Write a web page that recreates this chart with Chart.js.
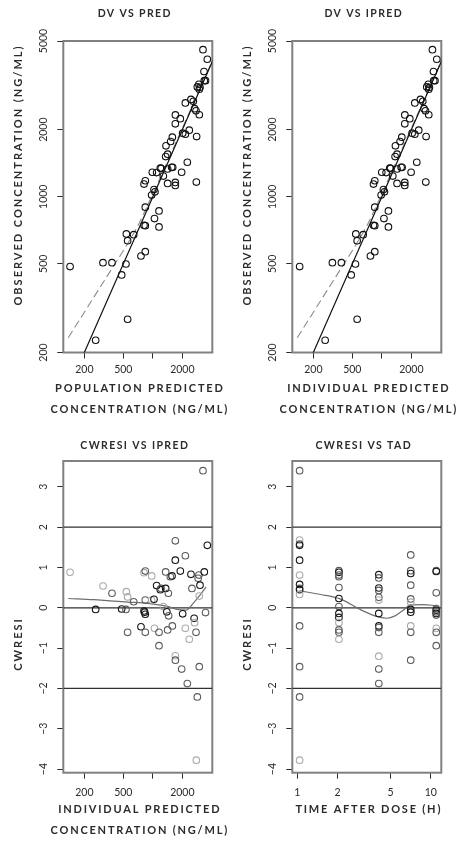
<!DOCTYPE html>
<html>
<head>
<meta charset="utf-8">
<title>Goodness of fit</title>
<script src="https://cdn.jsdelivr.net/npm/chart.js@4.4.1/dist/chart.umd.min.js"></script>
<style>
    body { margin: 0; background: #fff; }
    #panels { position: relative; width: 458px; height: 845px; }
    #panels canvas { position: absolute; }
</style>
</head>
<body>
<div id="panels">
    <canvas id="dvPred" width="229" height="420" style="left:0;top:0"></canvas>
    <canvas id="dvIpred" width="229" height="420" style="left:229px;top:0"></canvas>
    <canvas id="resIpred" width="229" height="425" style="left:0;top:420px"></canvas>
    <canvas id="resTad" width="229" height="425" style="left:229px;top:420px"></canvas>
</div>
<script>
// observed vs predicted (ng/mL)
const pred = [143, 261, 310, 383, 481, 532, 553, 537, 553, 638, 757, 838, 813, 838, 838, 813, 838, 973, 1028, 1052,
    988, 1094, 1040, 1156, 1156, 1193, 1215, 1280, 1352, 1416, 1362, 1520, 1582, 1416, 1556, 1595, 1416, 1697, 1697, 1697,
    1700, 1908, 1969, 2016, 2148, 2355, 2250, 2148, 2450, 2590, 2670, 2760, 2980, 2800, 2780, 2845, 2950, 3030, 2980, 3351,
    3330, 3250, 3600, 3450]
const ipred = [145, 264, 313, 387, 487, 538, 560, 543, 560, 645, 765, 847, 822, 847, 847, 822, 847, 984, 1039, 1063,
    999, 1106, 1051, 1168, 1168, 1206, 1228, 1294, 1366, 1431, 1377, 1536, 1599, 1431, 1573, 1612, 1431, 1715, 1715, 1715,
    1718, 1928, 1990, 2037, 2171, 2380, 2274, 2171, 2476, 2618, 2698, 2789, 3012, 2830, 2810, 2875, 2981, 3062, 3012, 3387,
    3365, 3285, 3638, 3487]
const dv = [486, 227, 506, 506, 446, 499, 282, 681, 635, 676, 542, 567, 745, 742, 898, 1140, 1180, 1017, 1078, 1052,
    1288, 1284, 798, 864, 732, 1346, 1340, 1238, 1514, 1552, 1692, 1770, 1850, 1332, 1356, 1356, 1148, 1160, 1124, 2125,
    2329, 2240, 1288, 1928, 1910, 1990, 1428, 2636, 2735, 2680, 2485, 2430, 2334, 1862, 1164, 3112, 3198, 3100, 3040, 3320,
    3648, 4570, 4140, 3320]
const dvSmoothX = [137, 250, 400, 558, 700, 1000, 1500, 2500, 4100]
const dvSmoothY = [233, 354, 491, 620, 738, 1030, 1530, 2530, 4120]
const unity = [100, 10000]

// CWRESI vs IPRED, group 0 = dark, 1 = mid, 2 = light
const resX = [143, 261, 310, 383, 481, 532, 537, 553, 553, 638, 757, 813, 838, 825, 838, 813, 838, 838, 973, 973,
    1028, 1040, 1094, 1156, 1156, 1193, 1215, 1280, 1352, 1352, 1390, 1416, 1440, 1450, 1510, 1570, 1582, 1697, 1697, 1697,
    1700, 1908, 1969, 2016, 2148, 2148, 2250, 2355, 2450, 2510, 2640, 2670, 2760, 2845, 2780, 2900, 2950, 3030, 2980, 2980,
    3250, 3351, 3450, 3600]
const resY = [0.88, -0.04, 0.54, 0.36, -0.03, -0.04, 0.4, 0.27, -0.61, 0.15, -0.47, -0.08, -0.16, -0.11, -0.61, 0.87, 0.91, 0.19, 0.79, 0.19,
    0.21, -0.51, 0.55, -0.61, -0.94, 0.45, 0.48, 0.03, 0.89, 0.48, -0.1, -0.55, 0.36, -0.2, 0.77, 0.79, -0.45, 1.66, 1.18, -1.19,
    -1.3, 0.91, -1.52, -0.15, 1.29, -0.51, -1.88, -0.78, 0.83, 0.48, -0.26, -0.37, -0.61, -2.21, -3.78, 0.73, 0.81, 0.56, 0.29, -1.46,
    3.4, 0.89, -0.12, 1.55]
const resGrp = [2, 0, 2, 1, 0, 1, 2, 2, 1, 1, 0, 0, 0, 0, 1, 2, 1, 1, 2, 2,
    0, 2, 0, 1, 1, 0, 1, 2, 1, 0, 0, 1, 1, 1, 1, 0, 1, 1, 0, 2,
    1, 0, 1, 0, 1, 2, 1, 2, 0, 1, 0, 2, 1, 1, 2, 1, 1, 0, 2, 1,
    1, 0, 1, 0]
const resSmoothX = [137, 250, 366, 550, 800, 1100, 1387, 1756, 2180, 2580, 3000, 3500]
const resSmoothY = [0.23, 0.2, 0.17, 0.14, 0.12, 0.08, 0.04, -0.04, -0.06, 0.11, 0.3, 0.52]

// CWRESI vs time after dose (h)
const tad = [1.04, 1.04, 1.04, 1.04, 1.04, 1.04, 1.04, 1.04, 1.04, 1.04, 1.04, 1.04, 1.04, 1.04,
    2.05, 2.05, 2.05, 2.05, 2.05, 2.05, 2.05, 2.05, 2.05, 2.05, 2.05, 2.05, 2.05,
    4.08, 4.08, 4.08, 4.08, 4.08, 4.08, 4.08, 4.08, 4.08, 4.08, 4.08, 4.08, 4.08,
    7.08, 7.08, 7.08, 7.08, 7.08, 7.08, 7.08, 7.08, 7.08, 7.08, 7.08,
    11.0, 11.0, 11.0, 11.0, 11.0, 11.0, 11.0, 11.0, 11.0, 11.0, 11.0]
const tadRes = [3.4, 1.68, 1.58, 1.55, 1.18, 0.81, 0.58, 0.48, 0.45, 0.33, -0.45, -1.46, -2.21, -3.78,
    0.92, 0.88, 0.81, 0.77, 0.5, 0.23, 0.03, -0.14, -0.24, -0.37, -0.55, -0.61, -0.78,
    0.82, 0.74, 0.49, 0.43, 0.26, 0.19, -0.14, -0.45, -0.49, -0.61, -1.2, -1.52, -1.88,
    1.31, 0.92, 0.85, 0.56, 0.22, 0.14, -0.04, -0.11, -0.45, -0.61, -1.3,
    0.92, 0.9, 0.37, -0.02, -0.06, -0.1, -0.14, -0.18, -0.51, -0.61, -0.94]
const tadGrp = [1, 2, 1, 0, 0, 2, 0, 1, 0, 2, 1, 1, 1, 2,
    1, 0, 1, 1, 1, 0, 1, 0, 0, 2, 1, 1, 2,
    0, 1, 0, 1, 1, 2, 0, 0, 1, 1, 2, 1, 1,
    1, 1, 0, 1, 1, 2, 0, 0, 2, 1, 1,
    1, 0, 1, 1, 0, 1, 0, 1, 2, 1, 1]
const tadSmoothX = [1.04, 1.5, 2.09, 2.95, 3.6, 4.17, 4.68, 5.4, 6.23, 7.0, 8.8, 11.0]
const tadSmoothY = [0.42, 0.33, 0.22, -0.04, -0.17, -0.24, -0.26, -0.2, -0.06, 0.07, 0.08, 0.05]

// axes
const concRange = [122, 4046]
const concTicks = [200, 500, 1000, 2000]
const dvRange = [200, 5000]
const dvTicks = [200, 500, 1000, 2000, 5000]
const resRange = [-4.09, 3.64]
const resTicks = [-4, -3, -2, -1, 0, 1, 2, 3]
const resLines = [-2, 0, 2]
const tadRange = [0.917, 12.0]
const tadTicks = [1, 2, 5, 10]

const INK = "#2b2b2b"
const SHADES = ["#161616", "#5c5c5c", "#aaaaaa"]
const TICK_FONT = { family: "Lato", size: 10.5 }

const fmt = (v) => (v < 0 ? "\u2212" + -v : String(v))
const pts = (xs, ys) => xs.map((x, i) => ({ x, y: ys[i] }))

function scatter(xs, ys, colors) {
    return {
        data: pts(xs, ys),
        pointRadius: 3.3,
        pointBorderWidth: 1.1,
        pointBackgroundColor: "rgba(0,0,0,0)",
        pointBorderColor: colors,
    }
}

function curve(xs, ys, color, width, dash) {
    return {
        type: "line",
        data: pts(xs, ys),
        borderColor: color,
        borderWidth: width,
        borderDash: dash || [],
        pointRadius: 0,
        fill: false,
        cubicInterpolationMode: "monotone",
    }
}

// centre rotated y labels about 20px left of the box
function yLabelPad(labels) {
    const ctx = document.createElement("canvas").getContext("2d")
    ctx.font = `${TICK_FONT.size}px ${TICK_FONT.family}`
    const widest = Math.max(...labels.map((t) => ctx.measureText(t).width))
    return 14 - widest / 2
}

const panelText = {
    id: "panelText",
    beforeDatasetsDraw(chart) {
        const { ctx, chartArea: a } = chart
        ctx.save()
        ctx.strokeStyle = "#808080"
        ctx.lineWidth = 2
        ctx.strokeRect(a.left, a.top, a.right - a.left, a.bottom - a.top)
        ctx.restore()
    },
    afterDraw(chart, args, opts) {
        const { ctx, chartArea: a } = chart
        const mid = (a.left + a.right) / 2
        ctx.save()
        ctx.fillStyle = INK
        ctx.textAlign = "center"
        ctx.textBaseline = "middle"
        ctx.font = "bold 10.5px Lato"
        ctx.letterSpacing = "1.4px"
        ctx.fillText(opts.title, mid - 3, opts.titleY)
        ctx.font = "bold 11px Lato"
        ctx.letterSpacing = "1.8px"
        opts.xTitle.forEach((line, i) => {
            ctx.fillText(line, mid + 2, opts.xTitleY + i * 21.5)
        })
        ctx.letterSpacing = "2px"
        ctx.translate(18.3, opts.yTitleY)
        ctx.rotate(-Math.PI / 2)
        ctx.fillText(opts.yTitle, 0, 0)
        ctx.restore()
    },
}

function axis(type, range, ticks, hide) {
    return {
        type: type,
        min: range[0],
        max: range[1],
        bounds: "data",
        afterBuildTicks: (s) => {
            s.ticks = ticks.map((value) => ({ value }))
        },
        border: { display: false },
        grid: { drawOnChartArea: false, tickLength: 6, color: INK, tickColor: INK, lineWidth: 1 },
        ticks: {
            autoSkip: false,
            color: INK,
            font: TICK_FONT,
            callback: (v) => (hide.includes(v) ? "" : fmt(v)),
        },
    }
}

function makePanel(id, p) {
    const x = axis(p.xType, p.xRange, p.xTicks, p.xHide || [])
    x.afterFit = (s) => {
        s.height = s.chart.height - p.boxBottom
    }
    Object.assign(x.ticks, { maxRotation: 0, minRotation: 0, padding: p.xPad })

    const y = axis(p.yType, p.yRange, p.yTicks, [])
    y.afterFit = (s) => {
        s.width = 63.3
    }
    Object.assign(y.ticks, {
        minRotation: 90,
        maxRotation: 90,
        crossAlign: "center",
        padding: yLabelPad(p.yTicks.map(fmt)),
    })

    return new Chart(document.getElementById(id), {
        type: "scatter",
        data: { datasets: p.datasets },
        options: {
            responsive: false,
            animation: false,
            events: [],
            layout: { padding: { left: 0, right: 16.7, top: 41, bottom: 0 } },
            plugins: {
                legend: { display: false },
                tooltip: { enabled: false },
                panelText: p.text,
            },
            scales: { x, y },
        },
        plugins: [panelText],
    })
}

function refLine(level, range) {
    return curve(range, [level, level], "#303030", 1.3)
}

makePanel("dvPred", {
    xType: "logarithmic", xRange: concRange, xTicks: concTicks, xHide: [1000], xPad: 5.2,
    yType: "logarithmic", yRange: dvRange, yTicks: dvTicks, boxBottom: 352.5,
    datasets: [
        scatter(pred, dv, "#111"),
        curve(unity, unity, "#111", 1.2),
        curve(dvSmoothX, dvSmoothY, "#8a8a8a", 1.1, [8, 4]),
    ],
    text: {
        title: "DV VS PRED", titleY: 14,
        xTitle: ["POPULATION PREDICTED", "CONCENTRATION (NG/ML)"], xTitleY: 388,
        yTitle: "OBSERVED CONCENTRATION (NG/ML)", yTitleY: 175,
    },
})

makePanel("dvIpred", {
    xType: "logarithmic", xRange: concRange, xTicks: concTicks, xHide: [1000], xPad: 5.2,
    yType: "logarithmic", yRange: dvRange, yTicks: dvTicks, boxBottom: 352.5,
    datasets: [
        scatter(ipred, dv, "#111"),
        curve(unity, unity, "#111", 1.2),
        curve(dvSmoothX, dvSmoothY, "#8a8a8a", 1.1, [8, 4]),
    ],
    text: {
        title: "DV VS IPRED", titleY: 14,
        xTitle: ["INDIVIDUAL PREDICTED", "CONCENTRATION (NG/ML)"], xTitleY: 388,
        yTitle: "OBSERVED CONCENTRATION (NG/ML)", yTitleY: 175,
    },
})

makePanel("resIpred", {
    xType: "logarithmic", xRange: concRange, xTicks: concTicks, xHide: [1000], xPad: 7.7,
    yType: "linear", yRange: resRange, yTicks: resTicks, boxBottom: 352.7,
    datasets: [
        scatter(resX, resY, resGrp.map((g) => SHADES[g])),
        curve(resSmoothX, resSmoothY, "#6e6e6e", 1.2),
        ...resLines.map((l) => refLine(l, concRange)),
    ],
    text: {
        title: "CWRESI VS IPRED", titleY: 26,
        xTitle: ["INDIVIDUAL PREDICTED", "CONCENTRATION (NG/ML)"], xTitleY: 389.3,
        yTitle: "CWRESI", yTitleY: 224,
    },
})

makePanel("resTad", {
    xType: "logarithmic", xRange: tadRange, xTicks: tadTicks, xPad: 7.7,
    yType: "linear", yRange: resRange, yTicks: resTicks, boxBottom: 352.7,
    datasets: [
        scatter(tad, tadRes, tadGrp.map((g) => SHADES[g])),
        curve(tadSmoothX, tadSmoothY, "#6e6e6e", 1.2),
        ...resLines.map((l) => refLine(l, tadRange)),
    ],
    text: {
        title: "CWRESI VS TAD", titleY: 26,
        xTitle: ["TIME AFTER DOSE (H)"], xTitleY: 389.3,
        yTitle: "CWRESI", yTitleY: 224,
    },
})
</script>
</body>
</html>
